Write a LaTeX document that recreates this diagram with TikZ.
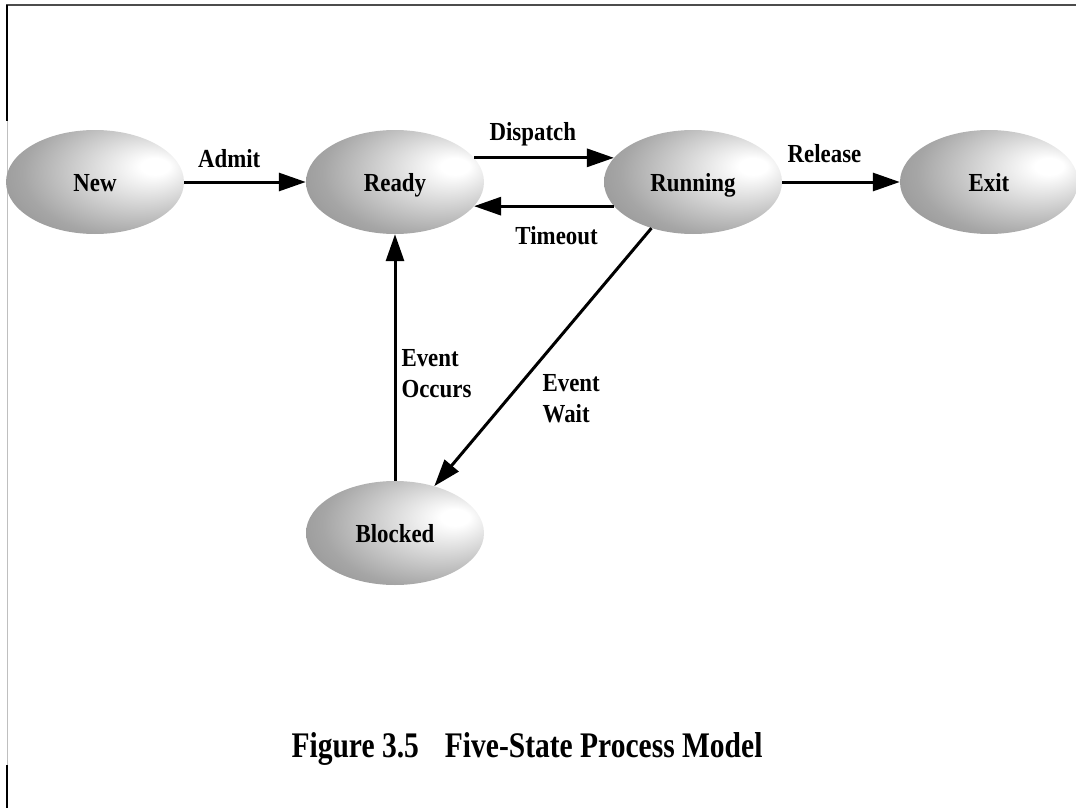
\documentclass[tikz,border=0pt]{standalone}
\usepackage{fontspec}
\setmainfont{Liberation Serif}
\newfontfamily\statefont{Liberation Serif}[FakeStretch=0.88]
\newfontfamily\capfont{Liberation Serif}[FakeStretch=0.82]
\usetikzlibrary{shapes.geometric, arrows.meta, positioning}
\pgfdeclareradialshading{stateball}{\pgfpoint{18bp}{8bp}}{color(0bp)=(white); color(4bp)=(white); color(30bp)=(black!35); color(65bp)=(black!62)}

\begin{document}
\begin{tikzpicture}[
    x=1pt, y=-1pt,
    node distance=298pt,
    state/.style={ellipse, minimum width=178pt, minimum height=104pt, inner sep=0pt, shading=stateball, text height=18pt, text depth=0pt, font=\statefont\bfseries\fontsize{26}{29}\selectfont},
    lbl/.style={inner sep=0pt, font=\statefont\bfseries\fontsize{26}{31}\selectfont},
    arrow/.style={line width=3pt, ->, >={Triangle[length=27pt, width=18pt]}}
]
\useasboundingbox (0,0) rectangle (1076,808);

% Frame edges
\draw[black!70, line width=1.5pt] (6,5) -- (1076,5);
\draw[black, line width=2pt] (7,5) -- (7,121);
\draw[black!25, line width=1pt] (7,121) -- (7,765);
\draw[black, line width=2pt] (7,765) -- (7,808);

% Row 1: New, Ready, Running, Exit
\node (new) [state] at (95,182) {New};
\node (ready) [state, right of=new, node distance=300pt] {Ready};
\node (running) [state, right of=ready] {Running};
\node (exit) [state, right of=running, node distance=296pt] {Exit};

% Row 2: Blocked
\node (blocked) [state, below of=ready, node distance=351pt] {Blocked};

% Caption
\node (title) [anchor=base, font=\capfont\bfseries\fontsize{36}{40}\selectfont] at (527,757) {Figure 3.5\hspace{26pt}Five-State Process Model};

% Transitions along the top row
\draw[arrow] (new) -- node[lbl, above=13pt, pos=0.37] {Admit} (ready);
\draw[arrow] (ready.17) -- node[lbl, above=10pt, pos=0.42] {Dispatch} (running.163);
\draw[arrow] (running.197) -- node[lbl, below=19pt, pos=0.41] {Timeout} (ready.-17);
\draw[arrow] (running) -- node[lbl, above=18pt, pos=0.36] {Release} (exit);

% Transitions to and from Blocked
\draw[arrow] (blocked) -- node[lbl, right=5pt, pos=0.435, align=left] {Event\\Occurs} (ready);
\draw[arrow] (running.228) -- node[lbl, right=33pt, pos=0.66, align=left] {Event\\Wait} (blocked.50);

\end{tikzpicture}
\end{document}
